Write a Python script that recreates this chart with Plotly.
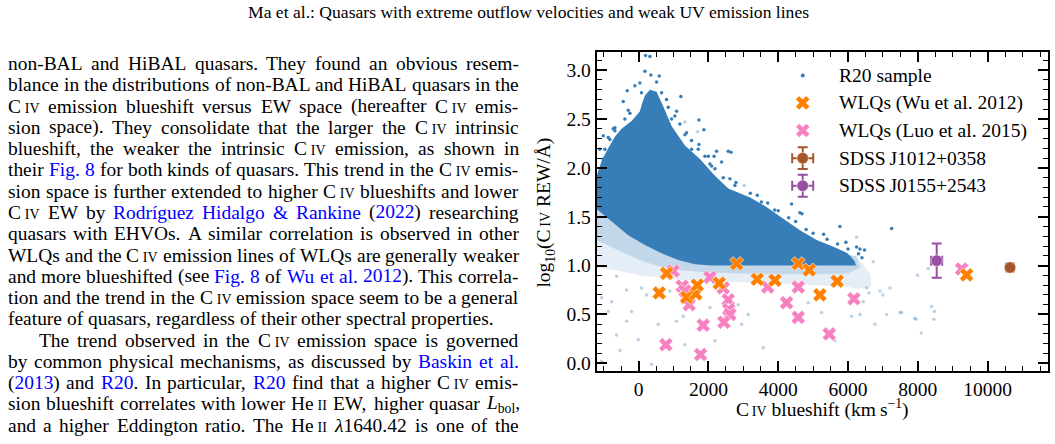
import plotly.graph_objects as go

W, H = 1055, 444

# ---------------- page text ----------------
header_text = "Ma et al.: Quasars with extreme outflow velocities and weak UV emission lines"
body_lines = [
    "non-BAL and HiBAL quasars. They found an obvious resem-",
    "blance in the distributions of non-BAL and HiBAL quasars in the",
    "C{IV} emission blueshift versus EW space (hereafter C{IV} emis-",
    "sion space). They consolidate that the larger the C{IV} intrinsic",
    "blueshift, the weaker the intrinsic C{IV} emission, as shown in",
    "their [Fig. 8] for both kinds of quasars. This trend in the C{IV} emis-",
    "sion space is further extended to higher C{IV} blueshifts and lower",
    "C{IV} EW by [Rodríguez Hidalgo & Rankine] ([2022]) researching",
    "quasars with EHVOs. A similar correlation is observed in other",
    "WLQs and the C{IV} emission lines of WLQs are generally weaker",
    "and more blueshifted (see [Fig. 8] of [Wu et al. 2012]). This correla-",
    "tion and the trend in the C{IV} emission space seem to be a general",
    "feature of quasars, regardless of their other spectral properties.",
    "The trend observed in the C{IV} emission space is governed",
    "by common physical mechanisms, as discussed by [Baskin et al.]",
    "([2013]) and [R20]. In particular, [R20] find that a higher C{IV} emis-",
    "sion blueshift correlates with lower He{II} EW, higher quasar *L*_{bol},",
    "and a higher Eddington ratio. The He{II} *λ*1640.42 is one of the",
]
body_justify = [True] * 12 + [False] + [True] * 5
body_indent = [0] * 13 + [1] + [0] * 4

# ---------------- chart data ----------------
# outline of the dense (opaque) part of the R20 sample
r20_core_x = [-1200, -1050, -870, -680, -488, -201, -100, 38, 100, 181, 324, 515, 706, 945,
              1327, 1757, 2187, 2569, 3180, 3664, 4148, 4633, 5117, 5601, 5988, 6182, 6230,
              2092, 1614, 1136, 659, 181, -297, -775, -1200]
r20_core_y = [1.92, 2.08, 2.20, 2.32, 2.40, 2.48, 2.52, 2.58, 2.66, 2.74, 2.80, 2.78, 2.63,
              2.43, 2.23, 2.09, 1.92, 1.79, 1.70, 1.60, 1.48, 1.36, 1.26, 1.19, 1.125, 1.05,
              1.0, 1.0, 1.013, 1.057, 1.125, 1.21, 1.31, 1.45, 1.58]
# outlines of the faint (transparent) part of the R20 sample
r20_haze_outer_x = [-1200, -775, -297, 181, 659, 1136, 1614, 2092, 6230, 6450, 6650,
                    6650, 6300, 6000, 5000, 4000, 3000, 2000, 1000, 0, -600, -1200]
r20_haze_outer_y = [1.68, 1.55, 1.41, 1.31, 1.22, 1.15, 1.11, 1.10, 1.10, 1.00, 0.90,
                    0.78, 0.76, 0.78, 0.80, 0.82, 0.83, 0.84, 0.86, 0.90, 0.95, 0.98]
r20_haze_inner_x = [-1200, -775, -297, 181, 659, 1136, 1614, 2092, 6230, 6350,
                    6000, 5000, 4000, 3000, 2000, 1000, 500, 0, -500, -1200]
r20_haze_inner_y = [1.68, 1.55, 1.41, 1.31, 1.22, 1.15, 1.11, 1.10, 1.10, 0.98,
                    0.92, 0.91, 0.91, 0.92, 0.93, 0.96, 1.00, 1.06, 1.14, 1.26]
# isolated R20 quasars around the dense region
r20_dark_x = [200, 324, 181, 352, 591, -326, -440, 1212, -297, 1088, 1728, 1871, -727, -1013,
              2568, 2234, 2377, 2616, 2788, 1728, 945, 1327, 1518, 1996, 2091, -937, -822,
              -679, -966, 2647, 2163, 3518, 4681, 4383, 4621, 5767, 7250, 6472, 5939, 6340,
              6245, 3200, 3900, 5300,
              -106, 37, 84, 515, 659, 802, 850, 1040, 1183, 1374, 1518, 1709, 1900, 2043,
              2187, 2425, 2759, -249, -392, -679, -870, -1109, -1013,
              3400, 3700, 4000, 4300, 4500, 4800, 5000, 5400, 5700, 6000, 6300, 6400]
r20_dark_y = [3.15, 3.14, 2.99, 2.95, 2.94, 2.79, 2.68, 2.73, 2.59, 2.58, 2.49, 2.39, 2.40, 2.33,
              2.17, 2.17, 2.06, 1.89, 1.85, 2.24, 2.50, 2.34, 2.19, 2.12, 2.02, 1.97, 2.29,
              2.38, 2.19, 2.16, 2.12, 1.65, 1.53, 1.63, 1.54, 1.40, 1.38, 1.16, 1.24, 1.17,
              1.19, 1.74, 1.57, 1.32,
              2.84, 2.87, 2.77, 2.88, 2.77, 2.70, 2.62, 2.53, 2.45, 2.36, 2.28, 2.19, 2.12, 2.04,
              1.99, 1.90, 1.82, 2.56, 2.50, 2.41, 2.31, 2.19, 2.09,
              1.72, 1.64, 1.56, 1.49, 1.45, 1.37, 1.33, 1.27, 1.22, 1.17, 1.12, 1.08]
r20_faint_x = [-1061, -774, -631, -536, -11, -201, 228, 562, 658, 1088, 1279, 1326, 2043, 2186,
               2854, 2950, 3571, 3141, 372, -1061, -870, -345, 85, 897, -345, -631,
               6245, 6054, 6722, 6532, 6913, 7200, 6436, 6340, 6770, 7105, 7486, 7916, 7990,
               8395, 8475, 8098, 6102, 5624, 5243, 4860, 8298, 7535, 7945, 8461, 6600, 7000,
               1326, 1689, 3028]
r20_faint_y = [0.67, 0.63, 0.29, 0.13, 0.24, 0.53, 0.70, 0.40, 0.16, 0.43, 0.48, 0.19, 0.57, 0.23,
               0.60, 0.40, 0.16, 0.50, -0.01, 0.02, 0.53, 0.43, 0.77, 0.74, 0.75, 0.89,
               1.29, 1.09, 1.04, 0.77, 0.74, 0.77, 0.63, 0.50, 0.40, 0.50, 0.52, 0.46, 0.90,
               0.58, 0.53, 0.31, 0.48, 0.23, 0.52, 0.62, 0.97, 0.52, 0.45, 0.45, 0.72, 0.70,
               2.47, 2.37, 1.82]
wu_x = [591, 802, 1375, 1642, 1680, 2310, 2808, 3399, 3905, 4573, 4888, 5194, 5690, 9397]
wu_y = [0.72, 0.92, 0.675, 0.71, 0.80, 0.82, 1.02, 0.86, 0.85, 1.02, 0.955, 0.70, 0.84, 0.905]
luo_x = [782, 992, 1249, 1330, 1450, 1851, 1776, 2043, 2424, 2567, 2580, 2616, 2444, 3700,
         4240, 4573, 4573, 5461, 6168, 9254]
luo_y = [0.19, 0.945, 0.79, 0.74, 0.60, 0.39, 0.09, 0.88, 0.77, 0.65, 0.55, 0.50, 0.42, 0.78,
         0.62, 0.78, 0.47, 0.30, 0.66, 0.965]
j1012_x, j1012_y, j1012_xerr, j1012_yerr = [10640], [0.98], [100], [0.02]
j0155_x, j0155_y, j0155_xerr, j0155_yerr = [8540], [1.05], [158], [0.175]

legend_labels = ["R20 sample", "WLQs (Wu et al. 2012)", "WLQs (Luo et al. 2015)",
                 "SDSS\u2009J1012+0358", "SDSS\u2009J0155+2543"]
x_ticks = [0, 2000, 4000, 6000, 8000, 10000]
y_ticks = [0.0, 0.5, 1.0, 1.5, 2.0, 2.5, 3.0]

# ---------------- styles ----------------
BLUE = "#377eb8"
ORANGE = "#ff7f00"
PINK = "#f781bf"
BROWN = "#a65628"
PURPLE = "#984ea3"
LINK = "#0000ff"
SERIF = "Liberation Serif"
FS_CHART = 19.5
FS_BODY = 19.45
FS_HEAD = 17.6

# plot area in pixels
PL, PR, PT, PB = 596.7, 1047.7, 52.0, 373.3
XR = [-1200, 11720]
YR = [-0.077, 3.19]

fig = go.Figure()


def poly(x, y, color):
    fig.add_trace(go.Scatter(x=x, y=y, mode="lines", fill="toself", fillcolor=color,
                             line=dict(width=0), hoverinfo="skip"))


poly(r20_haze_outer_x, r20_haze_outer_y, "rgba(55,126,184,0.13)")
poly(r20_haze_inner_x, r20_haze_inner_y, "rgba(55,126,184,0.20)")
fig.add_trace(go.Scatter(x=r20_faint_x, y=r20_faint_y, mode="markers",
                         marker=dict(size=3.5, color="rgba(55,126,184,0.35)")))
poly(r20_core_x, r20_core_y, BLUE)
fig.add_trace(go.Scatter(x=r20_dark_x, y=r20_dark_y, mode="markers",
                         marker=dict(size=3.5, color=BLUE)))

xmark = dict(symbol="x", size=12.5, line=dict(color="white", width=0.6))
fig.add_trace(go.Scatter(x=luo_x, y=luo_y, mode="markers", marker=dict(color=PINK, **xmark)))
fig.add_trace(go.Scatter(x=wu_x, y=wu_y, mode="markers", marker=dict(color=ORANGE, **xmark)))


def errpt(x, y, xe, ye, color, xaxis="x", yaxis="y"):
    fig.add_trace(go.Scatter(
        x=x, y=y, mode="markers", xaxis=xaxis, yaxis=yaxis,
        marker=dict(size=11.5, color=color, line=dict(color="white", width=0.5)),
        error_x=dict(type="data", array=xe, color=color, thickness=2, width=5),
        error_y=dict(type="data", array=ye, color=color, thickness=2, width=5)))


errpt(j1012_x, j1012_y, j1012_xerr, j1012_yerr, BROWN)
errpt(j0155_x, j0155_y, j0155_xerr, j0155_yerr, PURPLE)

# ---- hand-made legend (pixel overlay axis) ----
LEG_X = 802.7
LEG_Y = [76.0, 103.6, 131.4, 159.2, 187.0]
fig.add_trace(go.Scatter(x=[LEG_X], y=[LEG_Y[0]], mode="markers", xaxis="x2", yaxis="y2",
                         marker=dict(size=4, color=BLUE)))
fig.add_trace(go.Scatter(x=[LEG_X], y=[LEG_Y[1]], mode="markers", xaxis="x2", yaxis="y2",
                         marker=dict(color=ORANGE, **xmark)))
fig.add_trace(go.Scatter(x=[LEG_X], y=[LEG_Y[2]], mode="markers", xaxis="x2", yaxis="y2",
                         marker=dict(color=PINK, **xmark)))
errpt([LEG_X], [LEG_Y[3]], [10.5], [11], BROWN, "x2", "y2")
errpt([LEG_X], [LEG_Y[4]], [10.5], [11], PURPLE, "x2", "y2")

ann = []
for lab, ly in zip(legend_labels, LEG_Y):
    ann.append(dict(text=lab, x=838.3 / W, y=1 - ly / H, xref="paper", yref="paper",
                    xanchor="left", yanchor="middle", showarrow=False, borderpad=0,
                    font=dict(family=SERIF, size=FS_CHART, color="black")))

sc = f"<span style='font-size:{FS_CHART*0.72:.1f}px'>\u2009IV</span>"
ann.append(dict(text=f"C{sc} blueshift (km\u2009s<sup>\u22121</sup>)",
                x=(PL + PR) / 2 / W, y=1 - 411 / H, xref="paper", yref="paper",
                xanchor="center", yanchor="middle", showarrow=False, borderpad=0,
                font=dict(family=SERIF, size=FS_CHART, color="black")))
ann.append(dict(text=f"log<sub>10</sub>(C{sc} REW/Å)", textangle=-90,
                x=545 / W, y=1 - 214 / H, xref="paper", yref="paper",
                xanchor="center", yanchor="middle", showarrow=False, borderpad=0,
                font=dict(family=SERIF, size=FS_CHART, color="black")))

# ---- page text: header + justified column ----
ann.append(dict(text=header_text, x=528 / W, y=1 - (18 - 0.3375 * FS_HEAD) / H,
                xref="paper", yref="paper", xanchor="center", yanchor="middle",
                showarrow=False, borderpad=0,
                font=dict(family=SERIF, size=FS_HEAD, color="black")))

TW = dict(zip("abcdefghijklmnopqrstuvwxyz",
              [444, 500, 444, 500, 444, 333, 500, 500, 278, 278, 500, 278, 778, 500, 500, 500,
               500, 333, 389, 278, 500, 500, 722, 500, 500, 444]))
TW.update(zip("ABCDEFGHIJKLMNOPQRSTUVWXYZ",
              [722, 667, 667, 722, 611, 556, 722, 722, 333, 389, 722, 611, 889, 722, 722, 556,
               722, 667, 556, 611, 722, 722, 944, 722, 722, 611]))
TW.update({d: 500 for d in "0123456789"})
TW.update({" ": 250, ".": 250, ",": 250, ":": 278, ";": 278, "-": 333, "(": 333, ")": 333,
           "&": 778, "/": 278, "í": 278, "λ": 550, "+": 564})
ITW = {"L": 556, "λ": 550}
THIN = 0.2


def render(word, fs, link):
    runs = []  # (text, link, italic, kind)
    w = 0.0
    i = 0
    italic = False
    while i < len(word):
        c = word[i]
        if c == "[":
            link = True; i += 1; continue
        if c == "]":
            link = False; i += 1; continue
        if c == "*":
            italic = not italic; i += 1; continue
        if c == "{":
            j = word.index("}", i)
            s = word[i + 1:j]
            runs.append(("\u2009", link, False, "n"))
            runs.append((s, link, False, "sc"))
            w += THIN + 0.72 * sum(TW[k] for k in s) / 1000
            i = j + 1; continue
        if c == "_":
            j = word.index("}", i)
            s = word[i + 2:j]
            runs.append((s, link, False, "sub"))
            w += 0.7 * sum(TW[k] for k in s) / 1000
            i = j + 1; continue
        w += (ITW.get(c, 500) if italic else TW.get(c, 500)) / 1000
        if runs and runs[-1][1:] == (link, italic, "n"):
            runs[-1] = (runs[-1][0] + c, link, italic, "n")
        else:
            runs.append((c, link, italic, "n"))
        i += 1
    html = ""
    for t, lk, it, kind in runs:
        t = t.replace("&", "&amp;")
        if kind == "sub":
            piece = f"<sub>{t}</sub>"
        elif kind == "sc":
            st = f"font-size:{0.72 * fs:.2f}px" + (f";color:{LINK}" if lk else "")
            piece = f"<span style='{st}'>{t}</span>"
        else:
            piece = f"<i>{t}</i>" if it else t
            if lk:
                piece = f"<span style='color:{LINK}'>{piece}</span>"
        html += piece
    return html, w * fs, link


LEFT, RIGHT, INDENT = 6.9, 517.7, 31.0
BASE0, PITCH = 70.7, 21.4
link = False
for li, line in enumerate(body_lines):
    items = []
    for word in line.split(" "):
        h, wpx, link = render(word, FS_BODY, link)
        items.append((h, wpx))
    x0 = LEFT + (INDENT if body_indent[li] else 0)
    total = sum(wp for _, wp in items)
    if body_justify[li] and len(items) > 1:
        gap = (RIGHT - x0 - total) / (len(items) - 1)
    else:
        gap = 0.25 * FS_BODY
    yb = BASE0 + li * PITCH
    x = x0
    for h, wpx in items:
        ann.append(dict(text=h, x=x / W, y=1 - (yb - 0.3375 * FS_BODY) / H,
                        xref="paper", yref="paper", xanchor="left", yanchor="middle",
                        showarrow=False, borderpad=0,
                        font=dict(family=SERIF, size=FS_BODY, color="black")))
        x += wpx + gap

axis_common = dict(showline=True, linewidth=2, linecolor="black", mirror="ticks",
                   ticks="inside", ticklen=10, tickwidth=1.6, tickcolor="black",
                   showgrid=False, zeroline=False,
                   tickfont=dict(family=SERIF, size=FS_CHART, color="black"))
fig.update_layout(
    width=W, height=H, margin=dict(l=0, r=0, t=0, b=0),
    paper_bgcolor="white", plot_bgcolor="white", showlegend=False,
    xaxis=dict(domain=[PL / W, PR / W], range=XR, tickvals=x_ticks, tickformat="d",
               minor=dict(ticks="inside", ticklen=5, tickwidth=1.3, tickcolor="black", dtick=500,
                          tick0=0, showgrid=False),
               **axis_common),
    yaxis=dict(domain=[1 - PB / H, 1 - PT / H], range=YR, tickvals=y_ticks, tickformat=".1f",
               minor=dict(ticks="inside", ticklen=5, tickwidth=1.3, tickcolor="black", dtick=0.1,
                          tick0=0, showgrid=False),
               **axis_common),
    xaxis2=dict(overlaying="x", anchor="y2", range=[PL, PR], visible=False),
    yaxis2=dict(overlaying="y", anchor="x2", range=[PB, PT], visible=False),
    annotations=ann,
)

fig.write_html("out.html")
